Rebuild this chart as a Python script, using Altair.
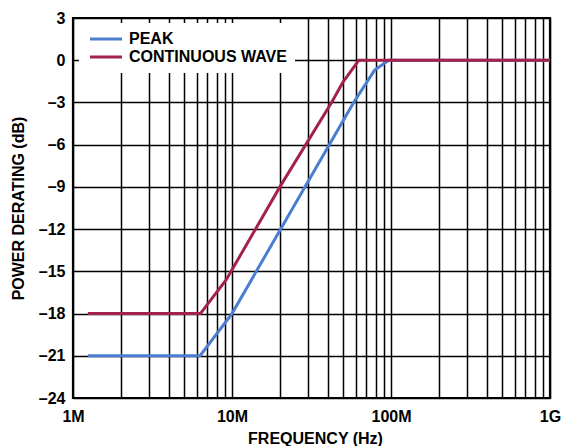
import altair as alt
import pandas as pd

# Series values
series_names = ["PEAK", "CONTINUOUS WAVE"]
series_colors = ["#4B7DD1", "#A3214B"]

peak_freq_hz = [1.24e6, 6.3e6, 10e6, 58.2e6, 78.9e6, 96.7e6, 1e9]
peak_db = [-21, -21, -18, -3, -0.7, 0, 0]

cw_freq_hz = [1.24e6, 6.33e6, 9.2e6, 20e6, 42.3e6, 49.6e6, 62.7e6, 1e9]
cw_db = [-18, -18, -15.6, -9, -3, -1.6, 0, 0]

# Axis ticks / labels
x_grid_values = [m * 10 ** e for e in range(6, 9) for m in range(1, 10)] + [10 ** 9]
x_tick_labels = {1000000: "1M", 10000000: "10M", 100000000: "100M", 1000000000: "1G"}
y_ticks = [-24, -21, -18, -15, -12, -9, -6, -3, 0, 3]

peak_df = pd.DataFrame({"freq": peak_freq_hz, "db": peak_db, "series": series_names[0]})
cw_df = pd.DataFrame({"freq": cw_freq_hz, "db": cw_db, "series": series_names[1]})

FONT = "Liberation Sans"

label_expr = " : ".join(
    [f"datum.value == {k} ? '{v}'" for k, v in x_tick_labels.items()]
) + " : ''"

x_enc = alt.X(
    "freq:Q",
    scale=alt.Scale(type="log", domain=[1e6, 1e9], nice=False),
    axis=alt.Axis(
        values=x_grid_values,
        labelExpr=label_expr,
        labelFlush=False,
        labelOverlap=False,
        ticks=False,
        domain=False,
        labelPadding=10,
        title="FREQUENCY (Hz)",
        titleX=242,
        titleY=45.5,
        titleBaseline="alphabetic",
        titleAnchor="middle",
    ),
)
y_enc = alt.Y(
    "db:Q",
    scale=alt.Scale(domain=[-24, 3], nice=False, zero=False),
    axis=alt.Axis(
        values=y_ticks,
        labelExpr="datum.value < 0 ? '–' + abs(datum.value) : datum.label",
        ticks=False,
        domain=False,
        labelPadding=8,
        title="POWER DERATING (dB)",
        titleX=-49.5,
        titleY=190,
        titleBaseline="alphabetic",
        titleAngle=-90,
        titleAnchor="middle",
    ),
)
color_enc = alt.Color(
    "series:N",
    scale=alt.Scale(domain=series_names, range=series_colors),
    legend=alt.Legend(
        title=None,
        orient="none",
        legendX=6,
        legendY=5,
        fillColor="white",
        padding=8,
        labelFont=FONT,
        labelFontSize=16,
        labelFontWeight="bold",
        labelColor="black",
        symbolType="M-1,0H5.4",
        symbolSize=100,
        symbolStrokeWidth=3,
        labelOffset=26,
        rowPadding=2,
    ),
)

peak_line = alt.Chart(peak_df).mark_line(strokeWidth=3).encode(x=x_enc, y=y_enc, color=color_enc)
cw_line = alt.Chart(cw_df).mark_line(strokeWidth=3).encode(x=x_enc, y=y_enc, color=color_enc)

chart = (
    alt.layer(peak_line, cw_line)
    .properties(
        width=477,
        height=380,
        autosize=alt.AutoSizeParams(type="none"),
        padding={"left": 73, "top": 18, "right": 29, "bottom": 48},
    )
    .configure(background="white")
    .configure_view(stroke="black", strokeWidth=2.2)
    .configure_axis(
        grid=True,
        gridColor="black",
        gridOpacity=1,
        gridWidth=1.5,
        labelFont=FONT,
        labelFontSize=16,
        labelFontWeight="bold",
        labelColor="black",
        titleFont=FONT,
        titleFontSize=16,
        titleFontWeight="bold",
        titleColor="black",
    )
)

chart.save("out.html", embed_options={"renderer": "svg", "actions": False})
